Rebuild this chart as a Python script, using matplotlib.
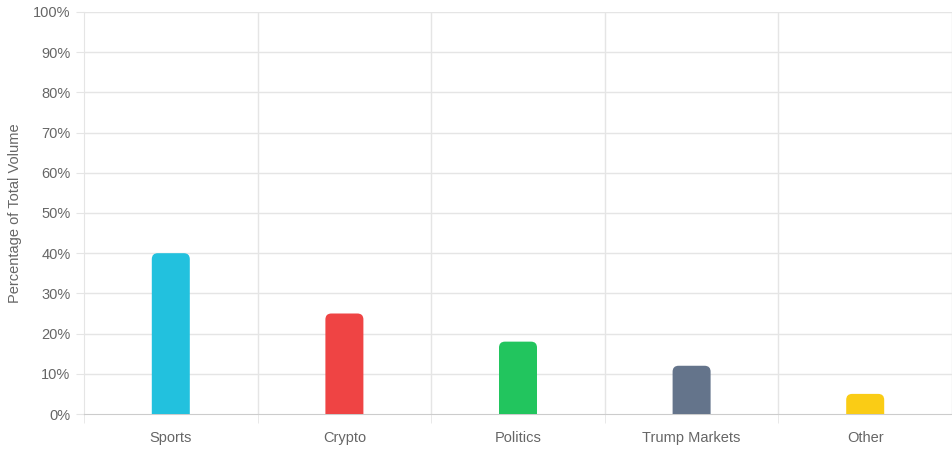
import matplotlib.pyplot as plt
import numpy as np
from matplotlib.path import Path
from matplotlib.patches import PathPatch

categories = ['Sports', 'Crypto', 'Politics', 'Trump Markets', 'Other']
share = [40, 25, 18, 12, 5]
colors = ['#22c1de', '#ef4444', '#22c55e', '#64748b', '#facc15']

plt.rcParams['font.family'] = ['Liberation Sans', 'DejaVu Sans']

W, H = 952, 450
fig = plt.figure(figsize=(W / 100, H / 100), dpi=100)
ax = fig.add_axes([84 / W, (H - 414) / H, (W - 84) / W, (414 - 12) / H])

n = len(categories)
X = np.arange(n)
ax.set_xlim(-0.5, n - 0.5)
ax.set_ylim(0, 100)

# pixel -> data scales for rounded corners
px_x = (n) / (W - 84)
px_y = 100 / (414 - 12)
r = 6
rx, ry = r * px_x, r * px_y
bw = 38 * px_x

for x, v, c in zip(X, share, colors):
    x0, x1 = x - bw / 2, x + bw / 2
    verts = [(x0, 0), (x0, v - ry), (x0, v), (x0 + rx, v),
             (x1 - rx, v), (x1, v), (x1, v - ry), (x1, 0), (x0, 0)]
    codes = [Path.MOVETO, Path.LINETO, Path.CURVE3, Path.CURVE3,
             Path.LINETO, Path.CURVE3, Path.CURVE3, Path.LINETO, Path.CLOSEPOLY]
    ax.add_patch(PathPatch(Path(verts, codes), facecolor=c, edgecolor='none', zorder=3))

# grid
for y in range(10, 101, 10):
    ax.axhline(y, color='#e5e5e5', lw=1, zorder=1)
for b in np.arange(-0.5, n, 1.0)[1:]:
    ax.axvline(b, color='#e5e5e5', lw=1, zorder=1)

ax.set_yticks(range(0, 101, 10))
ax.set_yticklabels([f'{t}%' for t in range(0, 101, 10)])
ax.set_xticks(X)
ax.set_xticklabels(categories)
ax.set_xticks(np.arange(-0.5, n, 1.0), minor=True)
ax.tick_params(axis='y', length=5.8, color='#e5e5e5', labelsize=10.5, labelcolor='#666666', pad=4)
ax.tick_params(axis='x', which='major', length=0, labelsize=10.5, labelcolor='#666666', pad=12.5)
ax.tick_params(axis='x', which='minor', length=6.5, color='#e5e5e5')

for s in ['top', 'right']:
    ax.spines[s].set_visible(False)
ax.spines['left'].set_color('#e5e5e5')
ax.spines['bottom'].set_color('#cccccc')

ax.set_ylabel('Percentage of Total Volume', fontsize=10.5, color='#666666', labelpad=8)

fig.savefig('out.png', dpi=100)
